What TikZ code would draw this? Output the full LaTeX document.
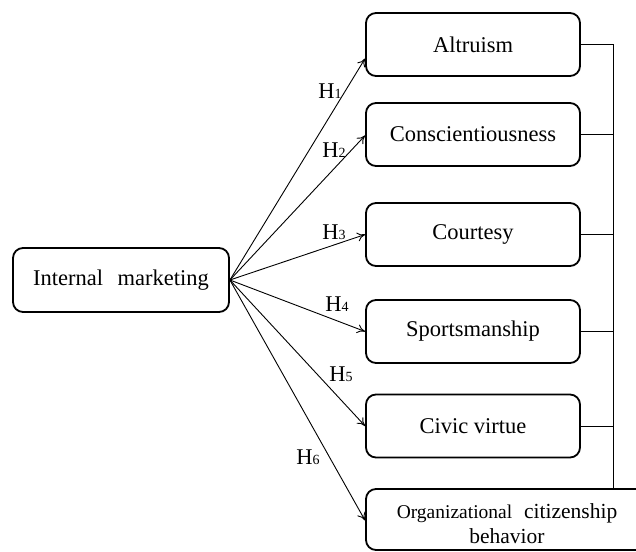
\documentclass[tikz,border=0pt]{standalone}
\usepackage{fontspec}
\setmainfont{Liberation Serif}
\usetikzlibrary{arrows.meta,calc}
\newcommand{\hnum}[1]{{\fontsize{14}{16}\selectfont #1}}
\begin{document}
\begin{tikzpicture}[x=1pt,y=-1pt,
  box/.style={draw, line width=1.8pt, rounded corners=10pt,
    minimum width=214pt, minimum height=63pt, inner sep=0pt,
    font=\fontsize{22.5}{25}\selectfont},
  hyp/.style={-{To[length=8pt,width=9pt]}, line width=0.9pt},
  link/.style={line width=0.9pt},
  hlab/.style={font=\fontsize{22.5}{25}\selectfont, inner sep=0pt}
]
\useasboundingbox (0,0) rectangle (636,551);
\clip (0,0) rectangle (636,551);

% source construct
\node[box, minimum width=216pt, minimum height=64pt] (im) at (121,280)
  {Internal\hspace{0.4em} marketing};

% dimensions
\node[box] (alt) at (473,44.5) {Altruism};
\node[box] (con) at (473,134.5) {Conscientiousness};
\node[box] (cou) at (473,234.5) {Courtesy};
\node[box] (spo) at (473,331.5) {Sportsmanship};
\node[box] (civ) at (473,426) {Civic virtue};

% overall construct
\node[box, minimum width=282pt, minimum height=61pt] (ocb) at (507,519.5) {};
\node[font=\fontsize{21.5}{25}\selectfont, align=center, inner sep=0pt] (ocbtext) at (507,524)
  {{\fontsize{19.5}{22}\selectfont Organizational}\hspace{0.3em} citizenship\\behavior};

% bracket joining the dimensions
\coordinate (bus) at (613,44.5);
\foreach \b in {alt,con,cou,spo,civ}
  \draw[link] (\b.east) -- (\b.east -| bus);
\draw[link] (bus) -- (bus |- ocb.north);

% hypotheses
\draw[hyp] (im.east) -- ([yshift=-14pt]alt.west);
\draw[hyp] (im.east) -- ([yshift=-1pt]con.west);
\draw[hyp] (im.east) -- (cou.west);
\draw[hyp] (im.east) -- (spo.west);
\draw[hyp] (im.east) -- (civ.west);
\draw[hyp] (im.east) -- ([yshift=-1pt]ocb.west);

\node[hlab] (h1) at (330,91) {H\hnum{1}};
\node[hlab] (h2) at (334,150) {H\hnum{2}};
\node[hlab] (h3) at (334,232) {H\hnum{3}};
\node[hlab] (h4) at (337,304) {H\hnum{4}};
\node[hlab] (h5) at (341,374) {H\hnum{5}};
\node[hlab] (h6) at (308,457) {H\hnum{6}};
\end{tikzpicture}
\end{document}
